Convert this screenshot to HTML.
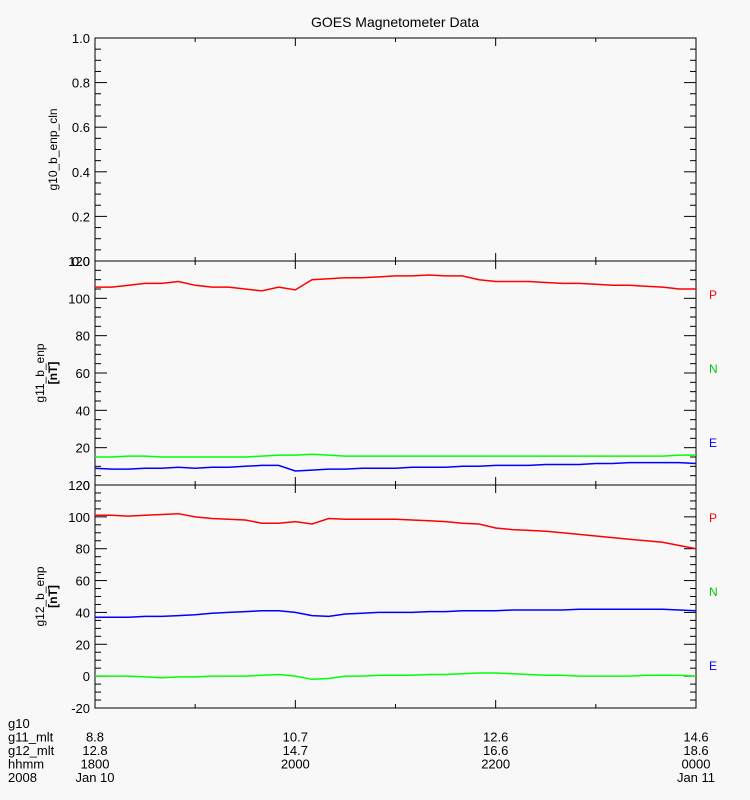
<!DOCTYPE html>
<html><head><meta charset="utf-8"><style>
body{margin:0;background:#f8f8f8;}
svg{display:block;font-family:"Liberation Sans",sans-serif;}
</style></head><body>
<svg id="c" width="750" height="800">
<rect width="750" height="800" fill="#f8f8f8"/>
<text x="395" y="27" font-size="14" text-anchor="middle">GOES Magnetometer Data</text>
<g id="g" stroke="#000" fill="none" stroke-width="1"></g>
<g id="t" font-size="13" fill="#000"></g>
</svg>
<script>
const p2P=[106,106,107,108,108,109,107,106,106,105,104,106,104.5,110,110.5,111,111,111.5,112,112,112.5,112,112,110,109,109,109,108.5,108,108,107.5,107,107,106.5,106,105,105];
const p2N=[15,15,15.5,15.5,15,15,15,15,15,15,15.5,16,16,16.5,16,15.5,15.5,15.5,15.5,15.5,15.5,15.5,15.5,15.5,15.5,15.5,15.5,15.5,15.5,15.5,15.5,15.5,15.5,15.5,15.5,16,16];
const p2E=[9,8.5,8.5,9,9,9.5,9,9.5,9.5,10,10.5,10.5,7.5,8,8.5,8.5,9,9,9,9.5,9.5,9.5,10,10,10.5,10.5,10.5,11,11,11,11.5,11.5,12,12,12,12,11.5];
const p3P=[101,101,100.5,101,101.5,102,100,99,98.5,98,96,96,97,95.5,99,98.5,98.5,98.5,98.5,98,97.5,97,96,95.5,93,92,91.5,91,90,89,88,87,86,85,84,82,80];
const p3N=[37,37,37,37.5,37.5,38,38.5,39.5,40,40.5,41,41,40,38,37.5,39,39.5,40,40,40,40.5,40.5,41,41,41,41.5,41.5,41.5,41.5,42,42,42,42,42,42,41.5,41];
const p3E=[0,0,0,-0.5,-1,-0.5,-0.5,0,0,0,0.5,1,0,-2,-1.5,0,0,0.5,0.5,0.5,1,1,1.5,2,2,1.5,1,0.5,0.5,0,0,0,0,0.5,0.5,0.5,0];
const yTicks1=["0.0","0.2","0.4","0.6","0.8","1.0"];
const yTicks2=["0","20","40","60","80","100","120"];
const yTicks3=["-20","0","20","40","60","80","100","120"];
const rowLabels=["g10","g11_mlt","g12_mlt","hhmm","2008"];
const g11mlt=["8.8","10.7","12.6","14.6"];
const g12mlt=["12.8","14.7","16.6","18.6"];
const hhmm=["1800","2000","2200","0000"];
const dates=["Jan 10","","","Jan 11"];
const NS="http://www.w3.org/2000/svg";
const G=document.getElementById('g'),T=document.getElementById('t');
const X0=95,X1=696;
function el(tag,at,par){const e=document.createElementNS(NS,tag);for(const k in at)e.setAttribute(k,at[k]);par.appendChild(e);return e;}
const xs=i=>X0+(X1-X0)*i/36;
function panel(top,bot,min,max,major,minorN,labels,name,ylab,ylab2){
 const ys=v=>bot-(v-min)/(max-min)*(bot-top);
 const r=el('rect',{x:X0,y:top,width:X1-X0,height:bot-top},G);
 
 for(let h=0;h<=6;h++){const x=X0+(X1-X0)*h/6;const L=h%2?4:8;
  el('line',{x1:x,y1:bot,x2:x,y2:bot-L},G);el('line',{x1:x,y1:top,x2:x,y2:top+L},G);}
 const n=labels.length-1;
 for(let i=0;i<=n*minorN;i++){const y=top+(bot-top)*i/(n*minorN);const L=i%minorN?6:12;
  el('line',{x1:X0,y1:y,x2:X0+L,y2:y},G);el('line',{x1:X1,y1:y,x2:X1-L,y2:y},G);}
 labels.forEach((l,i)=>{const t=el('text',{x:X0-5,y:ys(min+i*major)+5,'text-anchor':'end'},T);t.textContent=l;
  });
 const cy=(top+bot)/2;
 const tx=ylab2?44:57;
 const t=el('text',{x:0,y:0,'text-anchor':'middle',transform:`translate(${tx},${cy}) rotate(-90)`,'font-size':12},T);t.textContent=ylab;
 
 if(ylab2){const t2=el('text',{x:0,y:0,'text-anchor':'middle',transform:`translate(57,${cy}) rotate(-90)`,'font-size':12,'font-weight':'bold'},T);t2.textContent=ylab2;
  }
 return ys;
}
function series(arr,ys,color,name){
 const d=arr.map((v,i)=>(i?'L':'M')+xs(i).toFixed(1)+','+ys(v).toFixed(1)).join('');
 const p=el('path',{d:d,stroke:color,'stroke-width':1.5},G);
 
}
function legend(items,tops){items.forEach((it,i)=>{const t=el('text',{x:709,y:tops[i],fill:it[1],'font-size':12},T);t.textContent=it[0];
 });}
panel(38,261,0,1,0.2,4,yTicks1,'panel-g10','g10_b_enp_cln');
const ys2=panel(261,485,0,120,20,4,yTicks2,'panel-g11','g11_b_enp','[nT]');
series(p2P,ys2,'#f00','g11-p-line');series(p2N,ys2,'#0f0','g11-n-line');series(p2E,ys2,'#00f','g11-e-line');
legend([['P','#f00'],['N','#0c0'],['E','#00f']],[299,373,447]);
const ys3=panel(485,708,-20,120,20,4,yTicks3,'panel-g12','g12_b_enp','[nT]');
series(p3P,ys3,'#f00','g12-p-line');series(p3N,ys3,'#00f','g12-n-line');series(p3E,ys3,'#0f0','g12-e-line');
legend([['P','#f00'],['N','#0c0'],['E','#00f']],[522,596,670]);
const rows=[[],g11mlt,g12mlt,hhmm,dates];
rowLabels.forEach((l,r)=>{const y=728+r*13.5;
 const t=el('text',{x:8,y:y,'font-size':13},T);t.textContent=l;
 rows[r].forEach((v,i)=>{if(!v)return;const x=X0+(X1-X0)*i/3;
  const a=el('text',{x:x,y:y,'text-anchor':'middle','font-size':13},T);a.textContent=v;
  });});
</script>
</body></html>
